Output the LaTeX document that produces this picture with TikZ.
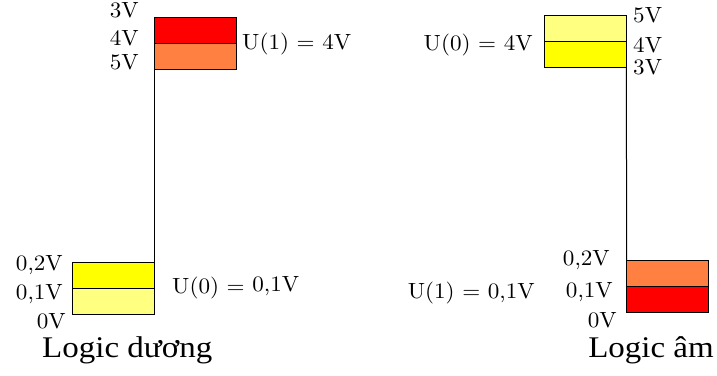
\documentclass[tikz,border=0pt]{standalone}
\usepackage{fontspec}
\usepackage{xcolor}
\usepackage{tikz}
\usetikzlibrary{positioning}
\newfontfamily\lblfont{lmroman10-regular.otf}[FakeStretch=1.05]
\newfontfamily\capfont{Liberation Serif}[FakeStretch=1.1]
\definecolor{orangeband}{RGB}{255,128,64}
\definecolor{yellowband}{RGB}{255,255,0}
\definecolor{paleyellow}{RGB}{255,255,128}

\begin{document}
\begin{tikzpicture}[x=1pt,y=-1pt,
		band/.style={draw,line width=1pt,minimum width=82pt,minimum height=26pt,inner sep=0pt,outer sep=0pt},
		lbl/.style={font=\lblfont\fontsize{22}{22}\selectfont,inner sep=0pt},
		captxt/.style={font=\capfont\fontsize{30}{30}\selectfont,inner sep=0pt}]
			\useasboundingbox (0,0) rectangle (717,375);
			
			% logic duong
			\node[band,fill=red,anchor=north west] (pHi1) at (154.3,17.3) {};
			\node[band,fill=orangeband,below=0pt of pHi1] (pHi2) {};
			\node[band,fill=yellowband,anchor=north east] (pLo2) at (154.3,262.7) {};
			\node[band,fill=paleyellow,below=0pt of pLo2] (pLo1) {};
			\draw[line width=1pt] (pHi2.south west) -- (pLo2.north east);
			
			\node[lbl,anchor=east] (p3) at (139,10) {3V};
			\node[lbl,anchor=east] (p4) at (139,38) {4V};
			\node[lbl,anchor=east] (p5) at (139,62) {5V};
			\node[lbl,anchor=west] (pU1) at (242,44) {U(1) = 4V};
			\node[lbl,anchor=east] (p02) at (63,265) {0,2V};
			\node[lbl,anchor=east] (p01) at (63,294) {0,1V};
			\node[lbl,anchor=east] (p00) at (66,321) {0V};
			\node[lbl,anchor=west] (pU0) at (172,288) {U(0) = \raisebox{2pt}{0,1V}};
			\node[captxt,anchor=base west] (pcap) at (42,357) {Logic dương};
			
			% logic am
			\node[band,fill=paleyellow,anchor=north west] (nHi1) at (544.3,15.7) {};
			\node[band,fill=yellowband,below=0pt of nHi1] (nHi2) {};
			\node[band,fill=orangeband,anchor=north west] (nLo2) at (626.7,260) {};
			\node[band,fill=red,below=0pt of nLo2] (nLo1) {};
			\draw[line width=1pt] (nHi2.south east) -- (nLo2.north west);
			
			\node[lbl,anchor=west] (n5) at (633,15) {5V};
			\node[lbl,anchor=west] (n4) at (633,45) {4V};
			\node[lbl,anchor=west] (n3) at (633,67) {3V};
			\node[lbl,anchor=east] (nU0) at (533,45) {U(0) = 4V};
			\node[lbl,anchor=east] (n02) at (610,260) {0,2V};
			\node[lbl,anchor=east] (n01) at (613,292) {0,1V};
			\node[lbl,anchor=east] (n00) at (617,320) {0V};
			\node[lbl,anchor=east] (nU1) at (535,293) {U(1) = 0,1V};
			\node[captxt,anchor=base east] (ncap) at (714,357) {Logic âm};
		\end{tikzpicture}
\end{document}
